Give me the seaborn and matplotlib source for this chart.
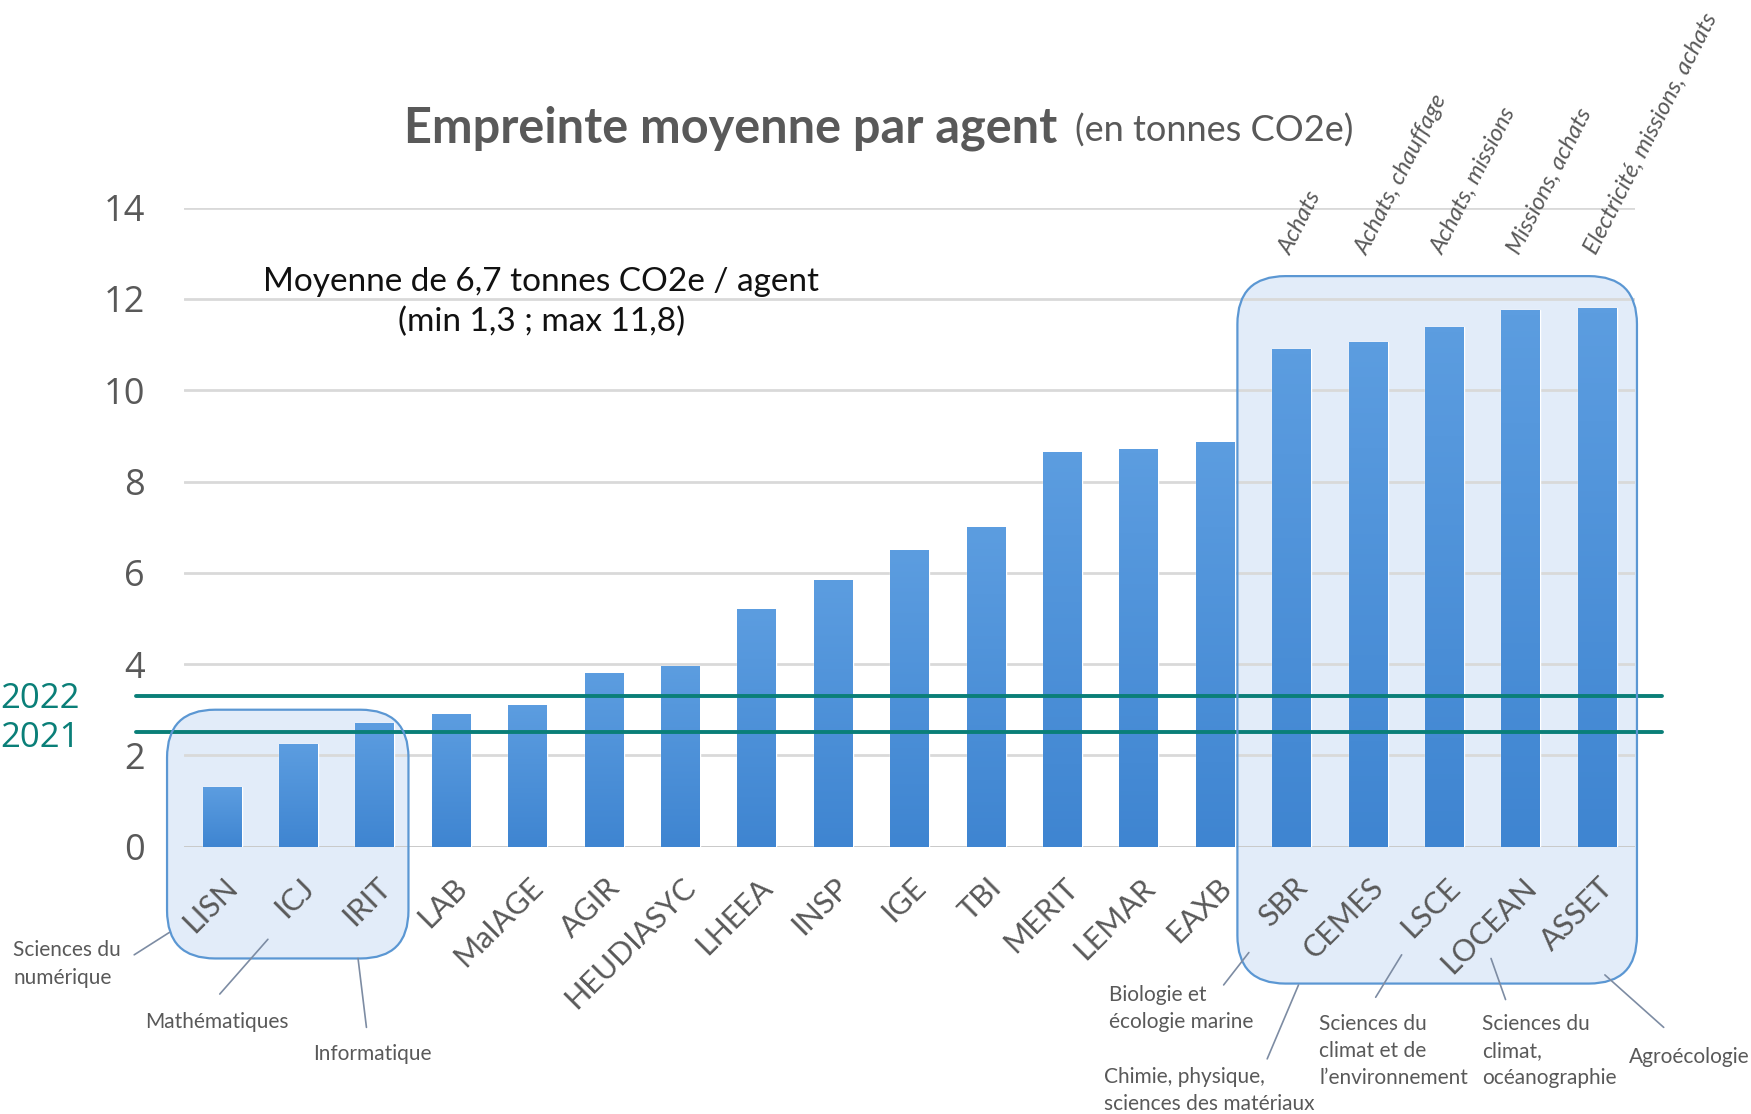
import numpy as np
import pandas as pd
import matplotlib
matplotlib.use("Agg")
import matplotlib.pyplot as plt
import seaborn as sns
from matplotlib.patches import FancyBboxPatch
from matplotlib.transforms import IdentityTransform, ScaledTranslation

# données
labos = ["LISN", "ICJ", "IRIT", "LAB", "MaIAGE", "AGIR", "HEUDIASYC", "LHEEA",
         "INSP", "IGE", "TBI", "MERIT", "LEMAR", "EAXB", "SBR", "CEMES",
         "LSCE", "LOCEAN", "ASSET"]
empreinte = [1.3, 2.25, 2.7, 2.9, 3.1, 3.8, 3.95, 5.2, 5.85, 6.5, 7.0,
             8.65, 8.72, 8.87, 10.9, 11.05, 11.38, 11.75, 11.8]

annees = ["2022", "2021"]
moyenne_annee = [3.3, 2.52]

# postes dominants des 5 plus gros labos
postes = ["Achats", "Achats, chauffage", "Achats, missions",
          "Missions, achats", "Electricité, missions, achats"]

# disciplines : texte, position du texte, trait de rappel
disciplines = [
    ("Sciences du\nnumérique", (-2.73, -2.57), "left", (-1.15, -2.37), (-0.69, -1.88)),
    ("Mathématiques", (-0.07, -3.84), "center", (-0.03, -3.23), (0.60, -2.03)),
    ("Informatique", (1.97, -4.55), "center", (1.89, -3.96), (1.78, -2.45)),
    ("Biologie et\nécologie marine", (11.61, -3.55), "left", (13.11, -3.03), (13.44, -2.32)),
    ("Chimie, physique,\nsciences des matériaux", (11.54, -5.34), "left", (13.68, -4.65), (14.09, -3.03)),
    ("Sciences du\nclimat et de\nl’environnement", (14.36, -4.48), "left", (15.10, -3.30), (15.44, -2.37)),
    ("Sciences du\nclimat,\nocéanographie", (16.49, -4.48), "left", (16.80, -3.35), (16.61, -2.45)),
    ("Agroécologie", (18.42, -4.60), "left", (18.87, -3.96), (18.10, -2.81)),
]

# groupes encadrés : (gauche, droite, bas, haut)
groupes = [(-0.72, 2.44, -2.45, 3.0), (13.29, 18.52, -3.0, 12.5)]

gris = "#595959"
teal = "#0a7f78"

sns.set_theme(style="white")
plt.rcParams['font.family'] = ['Lato', 'DejaVu Sans']

fig = plt.figure(figsize=(17.51, 11.14), dpi=100)
ax = fig.add_axes([0.105, 0.240, 0.829, 0.5736])

df = pd.DataFrame({"labo": labos, "empreinte": empreinte})
sns.barplot(data=df, x="labo", y="empreinte", color="#4a8dd6", saturation=1,
            width=0.51, ax=ax, zorder=3)

# léger dégradé sur les barres
grad = np.linspace(0, 1, 100).reshape(-1, 1)
cmap = matplotlib.colors.LinearSegmentedColormap.from_list("b", ["#3f85d1", "#5c9de0"])
for bar in ax.patches:
    x0, y0 = bar.get_x(), bar.get_y()
    im = ax.imshow(grad, extent=[x0, x0 + bar.get_width(), y0, y0 + bar.get_height()],
                   origin="lower", cmap=cmap, aspect="auto", zorder=3.5)
    im.set_clip_path(bar)

ax.set_xlim(-0.5, len(labos) - 0.5)
ax.set_ylim(0, 14)
ax.set_yticks(range(0, 15, 2))
ax.set_autoscale_on(False)
ax.yaxis.grid(True, color="#d9d9d9", lw=2, zorder=0)
ax.axhline(0, color="#c8c8c8", lw=2, zorder=1)
sns.despine(ax=ax, left=True, bottom=True)
ax.set_xlabel("")
ax.set_ylabel("")
ax.tick_params(axis="y", length=0, pad=28, labelsize=26, labelcolor=gris)
for t in ax.get_yticklabels():
    t.set_fontfamily(["Open Sans", "DejaVu Sans"])
ax.tick_params(axis="x", length=0, pad=26, labelsize=22, labelcolor=gris)
ax.set_xticks(range(len(labos)))
ax.set_xticklabels(labos, rotation=45, ha="right", va="center", rotation_mode="anchor")
decal = ScaledTranslation(0.11, 0, fig.dpi_scale_trans)
for t in ax.get_xticklabels():
    t.set_transform(t.get_transform() + decal)

# moyennes 2021 / 2022
for k, (an, v) in enumerate(zip(annees, moyenne_annee)):
    ax.axhline(v, xmin=-0.033, xmax=1.018, color=teal, lw=2.8, clip_on=False, zorder=5)
    ax.text(0.0, v, an, transform=ax.get_yaxis_transform() + ScaledTranslation(
            -fig.get_figwidth() * 0.105, -0.03 - 0.03 * k, fig.dpi_scale_trans),
            ha="left", va="center", fontsize=25, color=teal,
            family=["Open Sans", "DejaVu Sans"])

# cadres arrondis autour des groupes
fig.canvas.draw()
for xg, xd, yb, yt in groupes:
    (px0, py0) = ax.transData.transform((xg, yb))
    (px1, py1) = ax.transData.transform((xd, yt))
    box = FancyBboxPatch((px0, py0), px1 - px0, py1 - py0,
                         boxstyle="round,pad=0,rounding_size=48",
                         transform=IdentityTransform(), clip_on=False,
                         facecolor="#cfe0f5", alpha=0.6, edgecolor="none", zorder=0.3)
    ax.add_patch(box)
    edge = FancyBboxPatch((px0, py0), px1 - px0, py1 - py0,
                          boxstyle="round,pad=0,rounding_size=48",
                          transform=IdentityTransform(), clip_on=False,
                          facecolor="none", edgecolor="#5b97d3", lw=1.6, zorder=6)
    ax.add_patch(edge)

# disciplines
for txt, (tx, ty), ha, p0, p1 in disciplines:
    ax.text(tx, ty, txt, ha=ha, va="center", fontsize=15, color=gris,
            linespacing=1.45, clip_on=False)
    ax.plot([p0[0], p1[0]], [p0[1], p1[1]], color="#7d8ca3", lw=1.2, clip_on=False, zorder=6)

# postes dominants
for k, p in enumerate(postes):
    ax.text(14 + k + 0.03, 12.9, p, rotation=63, rotation_mode="anchor",
            ha="left", va="bottom", fontsize=17, style="italic", color=gris)

# encart moyenne
ax.text(4.18, 11.93, "Moyenne de 6,7 tonnes CO2e / agent\n(min 1,3 ; max 11,8)",
        ha="center", va="center", fontsize=24, color="#111111", linespacing=1.4)

# titre
fig.text(0.2307, 0.8725, "Empreinte moyenne par agent", fontsize=35, fontweight="bold",
         color=gris, va="baseline", ha="left")
fig.text(0.614, 0.8725, "(en tonnes CO2e)", fontsize=26, color=gris, va="baseline", ha="left")

fig.savefig("out.png", dpi=100, facecolor="white")
